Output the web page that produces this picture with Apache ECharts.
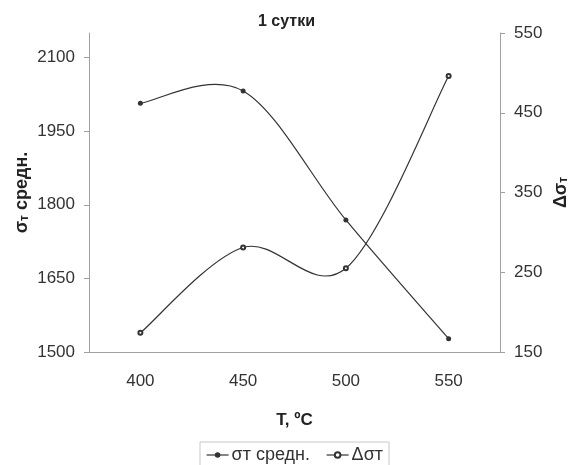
<!DOCTYPE html>
<html>
<head>
<meta charset="utf-8">
<script src="https://cdn.jsdelivr.net/npm/echarts@6/dist/echarts.min.js"></script>
<style>
  html, body { margin: 0; padding: 0; background: #fff; }
  #chart1 { width: 573px; height: 465px; }
</style>
</head>
<body>
<div id="chart1"></div>
<script>
// данные с графика
const categories = ['400', '450', '500', '550']
const sigmaMean = [2007, 2032, 1769, 1527]
const deltaSigma = [174, 281, 255, 496]
const leftTicks = [1500, 1650, 1800, 1950, 2100]

const font = "'Liberation Sans', Arial, sans-serif"
const axisGray = '#a0a0a0'
const lineColor = '#333'

// сглаженная линия как в Excel (Catmull-Rom), точки берутся через api.coord
function smoothCurve(values) {
  return function (params, api) {
    if (params.dataIndex !== 0) return null
    const pts = values.map((v, i) => api.coord([i, v]))
    const n = pts.length
    const children = []
    for (let i = 0; i < n - 1; i++) {
      const p0 = pts[Math.max(i - 1, 0)]
      const p1 = pts[i]
      const p2 = pts[i + 1]
      const p3 = pts[Math.min(i + 2, n - 1)]
      children.push({
        type: 'bezierCurve',
        shape: {
          x1: p1[0], y1: p1[1],
          x2: p2[0], y2: p2[1],
          cpx1: p1[0] + (p2[0] - p0[0]) / 6, cpy1: p1[1] + (p2[1] - p0[1]) / 6,
          cpx2: p2[0] - (p3[0] - p1[0]) / 6, cpy2: p2[1] - (p3[1] - p1[1]) / 6
        },
        style: { stroke: lineColor, lineWidth: 1.2, fill: null }
      })
    }
    return { type: 'group', children: children }
  }
}

let myChart = echarts.init(document.getElementById('chart1'))

let option = {
  backgroundColor: '#fff',
  animation: false,
  textStyle: { fontFamily: font },
  title: {
    text: '1 сутки',
    left: 'center',
    top: 9,
    textStyle: { fontSize: 16, fontWeight: 'bold', color: '#222', fontFamily: font }
  },
  legend: {
    left: 200,
    top: 442,
    padding: [4, 6],
    borderColor: '#c8c8c8',
    borderWidth: 1,
    itemWidth: 22,
    itemHeight: 7,
    itemGap: 16,
    lineStyle: { width: 1.2, color: lineColor, opacity: 1 },
    textStyle: { fontSize: 18, color: '#333', fontFamily: font, padding: [0, 0, 0, -2] },
    data: ['σт средн.', 'Δσт']
  },
  grid: { left: 89, right: 73, top: 33, bottom: 113, outerBoundsMode: 'none' },
  xAxis: {
    type: 'category',
    data: categories,
    boundaryGap: true,
    name: 'T, ºC',
    nameLocation: 'middle',
    nameGap: 60,
    nameMoveOverlap: false,
    nameTextStyle: { fontSize: 17, fontWeight: 'bold', color: '#222' },
    axisLine: { lineStyle: { color: axisGray } },
    axisTick: { show: false },
    axisLabel: { fontSize: 17, color: '#333', margin: 21 },
    splitLine: { show: false }
  },
  yAxis: [
    {
      type: 'value',
      min: 1500,
      max: 2150,
      position: 'left',
      name: '{a|σ}{b|т}{a| средн.}',
      nameLocation: 'middle',
      nameGap: 58,
      nameRotate: 90,
      nameMoveOverlap: false,
      nameTextStyle: {
        rich: {
          a: { fontSize: 18, fontWeight: 'bold', color: '#222', fontFamily: font },
          b: { fontSize: 12, fontWeight: 'bold', color: '#222', fontFamily: font, verticalAlign: 'bottom' }
        }
      },
      axisLine: { show: true, lineStyle: { color: axisGray } },
      axisTick: { show: true, length: 5, customValues: leftTicks, lineStyle: { color: axisGray } },
      axisLabel: { fontSize: 17, color: '#333', margin: 14, customValues: leftTicks, formatter: v => String(v) },
      splitLine: { show: false }
    },
    {
      type: 'value',
      min: 150,
      max: 550,
      interval: 100,
      position: 'right',
      name: '{a|Δσ}{b|т}',
      nameLocation: 'middle',
      nameGap: 52,
      nameRotate: 90,
      nameMoveOverlap: false,
      nameTextStyle: {
        rich: {
          a: { fontSize: 18, fontWeight: 'bold', color: '#222', fontFamily: font },
          b: { fontSize: 12, fontWeight: 'bold', color: '#222', fontFamily: font, verticalAlign: 'bottom' }
        }
      },
      axisLine: { show: true, lineStyle: { color: axisGray } },
      axisTick: { show: true, length: 5, lineStyle: { color: axisGray } },
      axisLabel: { fontSize: 17, color: '#333', margin: 14, formatter: v => String(v) },
      splitLine: { show: false }
    }
  ],
  series: [
    {
      name: 'σт средн. curve',
      type: 'custom',
      yAxisIndex: 0,
      z: 1,
      silent: true,
      renderItem: smoothCurve(sigmaMean),
      data: sigmaMean
    },
    {
      name: 'Δσт curve',
      type: 'custom',
      yAxisIndex: 1,
      z: 1,
      silent: true,
      renderItem: smoothCurve(deltaSigma),
      data: deltaSigma
    },
    {
      name: 'σт средн.',
      type: 'line',
      yAxisIndex: 0,
      z: 3,
      symbol: 'circle',
      symbolSize: 5,
      lineStyle: { width: 0 },
      itemStyle: { color: lineColor },
      data: sigmaMean
    },
    {
      name: 'Δσт',
      type: 'line',
      yAxisIndex: 1,
      z: 3,
      symbol: 'emptyCircle',
      symbolSize: 4,
      lineStyle: { width: 0 },
      itemStyle: { color: lineColor, borderWidth: 1 },
      data: deltaSigma
    }
  ]
}

option && myChart.setOption(option)
</script>
</body>
</html>
